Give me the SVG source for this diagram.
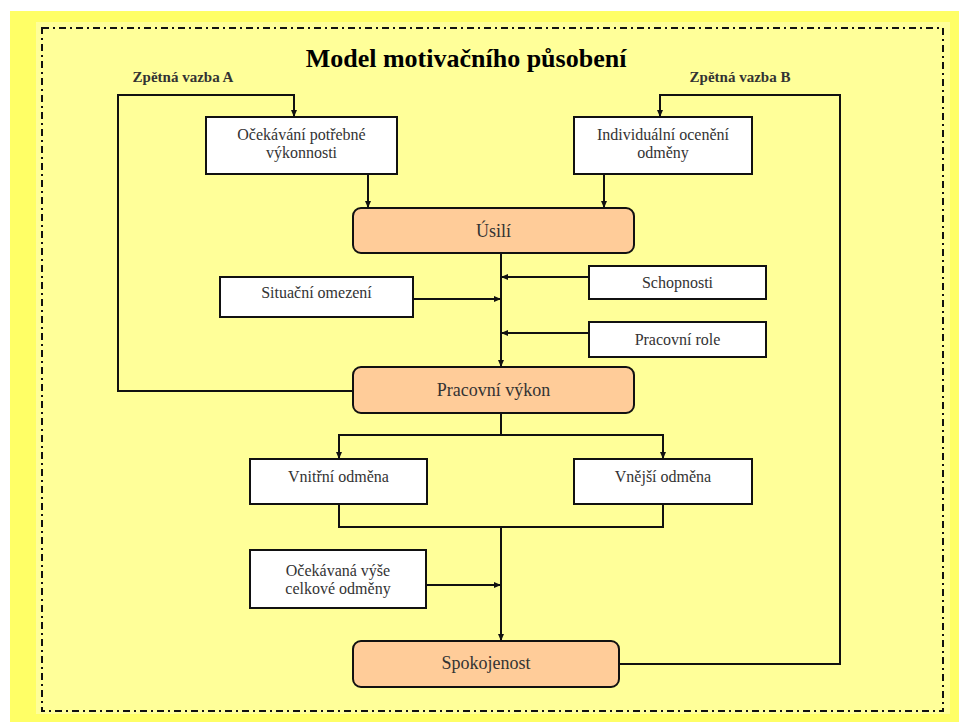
<svg xmlns="http://www.w3.org/2000/svg" width="959" height="722" viewBox="0 0 959 722">
<style>
.box{fill:#ffffff;stroke:#111;stroke-width:2}
.main{fill:#ffcc99;stroke:#111;stroke-width:2}
.t{font-family:"Liberation Serif","Times New Roman",serif;font-size:16px;fill:#333;text-anchor:middle}
.tm{font-family:"Liberation Serif","Times New Roman",serif;font-size:18px;fill:#333;text-anchor:middle}
.fb{font-family:"Liberation Serif","Times New Roman",serif;font-size:15px;font-weight:bold;fill:#333;text-anchor:middle}
.title{font-family:"Liberation Serif","Times New Roman",serif;font-size:26px;font-weight:bold;fill:#000;text-anchor:middle}
.c{fill:none;stroke:#111;stroke-width:2}
</style>
<defs>
<marker id="ah" markerUnits="userSpaceOnUse" markerWidth="8" markerHeight="8" refX="7" refY="4" orient="auto">
<path d="M0,1 L7,4 L0,7 Z" fill="#111"/>
</marker>
</defs>
<rect x="0" y="0" width="959" height="722" fill="#ffffff"/>
<rect x="10" y="11" width="949" height="711" fill="#ffff66"/>
<rect x="36" y="22" width="914" height="692" fill="#ffff99"/>
<rect x="42" y="28" width="901" height="683" fill="none" stroke="#111" stroke-width="2" stroke-dasharray="7,4,2,4"/>
<text class="title" x="466" y="67">Model motivačního působení</text>
<text class="fb" x="183" y="82">Zpětná vazba A</text>
<text class="fb" x="740" y="82">Zpětná vazba B</text>
<g id="connectors">
<polyline class="c" points="353,391 118,391 118,95 294,95 294,117" marker-end="url(#ah)"/>
<polyline class="c" points="619,664 840,664 840,95 660,95 660,117" marker-end="url(#ah)"/>
<line class="c" x1="368" y1="174" x2="368" y2="208" marker-end="url(#ah)"/>
<line class="c" x1="604" y1="174" x2="604" y2="208" marker-end="url(#ah)"/>
<line class="c" x1="501" y1="253" x2="501" y2="367" marker-end="url(#ah)"/>
<line class="c" x1="589" y1="277" x2="501" y2="277" marker-end="url(#ah)"/>
<line class="c" x1="413" y1="299" x2="501" y2="299" marker-end="url(#ah)"/>
<line class="c" x1="589" y1="333" x2="501" y2="333" marker-end="url(#ah)"/>
<line class="c" x1="501" y1="413" x2="501" y2="435"/>
<line class="c" x1="338" y1="435" x2="664" y2="435"/>
<line class="c" x1="339" y1="435" x2="339" y2="459" marker-end="url(#ah)"/>
<line class="c" x1="663" y1="435" x2="663" y2="459" marker-end="url(#ah)"/>
<polyline class="c" points="339,504 339,527 663,527 663,504"/>
<line class="c" x1="501" y1="527" x2="501" y2="641" marker-end="url(#ah)"/>
<line class="c" x1="426" y1="585" x2="501" y2="585" marker-end="url(#ah)"/>
</g>
<g id="ocekavani">
<rect class="box" x="206" y="117" width="191" height="57"/>
<text class="t" x="301.5" y="140">Očekávání potřebné</text>
<text class="t" x="301.5" y="158">výkonnosti</text>
</g>
<g id="individualni">
<rect class="box" x="574" y="117" width="178" height="57"/>
<text class="t" x="663" y="140">Individuální ocenění</text>
<text class="t" x="663" y="158">odměny</text>
</g>
<g id="usili">
<rect class="main" x="353" y="208" width="281" height="45" rx="8"/>
<text class="tm" x="493.5" y="237">Úsilí</text>
</g>
<g id="schopnosti">
<rect class="box" x="589" y="266" width="177" height="33"/>
<text class="t" x="677.5" y="288">Schopnosti</text>
</g>
<g id="situacni">
<rect class="box" x="220" y="277" width="193" height="40"/>
<text class="t" x="316.5" y="298">Situační omezení</text>
</g>
<g id="role">
<rect class="box" x="589" y="322" width="177" height="35"/>
<text class="t" x="677.5" y="345">Pracovní role</text>
</g>
<g id="vykon">
<rect class="main" x="353" y="367" width="281" height="46" rx="8"/>
<text class="tm" x="493.5" y="396">Pracovní výkon</text>
</g>
<g id="vnitrni">
<rect class="box" x="250" y="459" width="177" height="45"/>
<text class="t" x="338.5" y="482">Vnitřní odměna</text>
</g>
<g id="vnejsi">
<rect class="box" x="574" y="459" width="178" height="45"/>
<text class="t" x="663" y="482">Vnější odměna</text>
</g>
<g id="ocekavana">
<rect class="box" x="250" y="550" width="176" height="58"/>
<text class="t" x="338" y="576">Očekávaná výše</text>
<text class="t" x="338" y="594">celkové odměny</text>
</g>
<g id="spokojenost">
<rect class="main" x="353" y="641" width="266" height="46" rx="8"/>
<text class="tm" x="486" y="669">Spokojenost</text>
</g>
</svg>
